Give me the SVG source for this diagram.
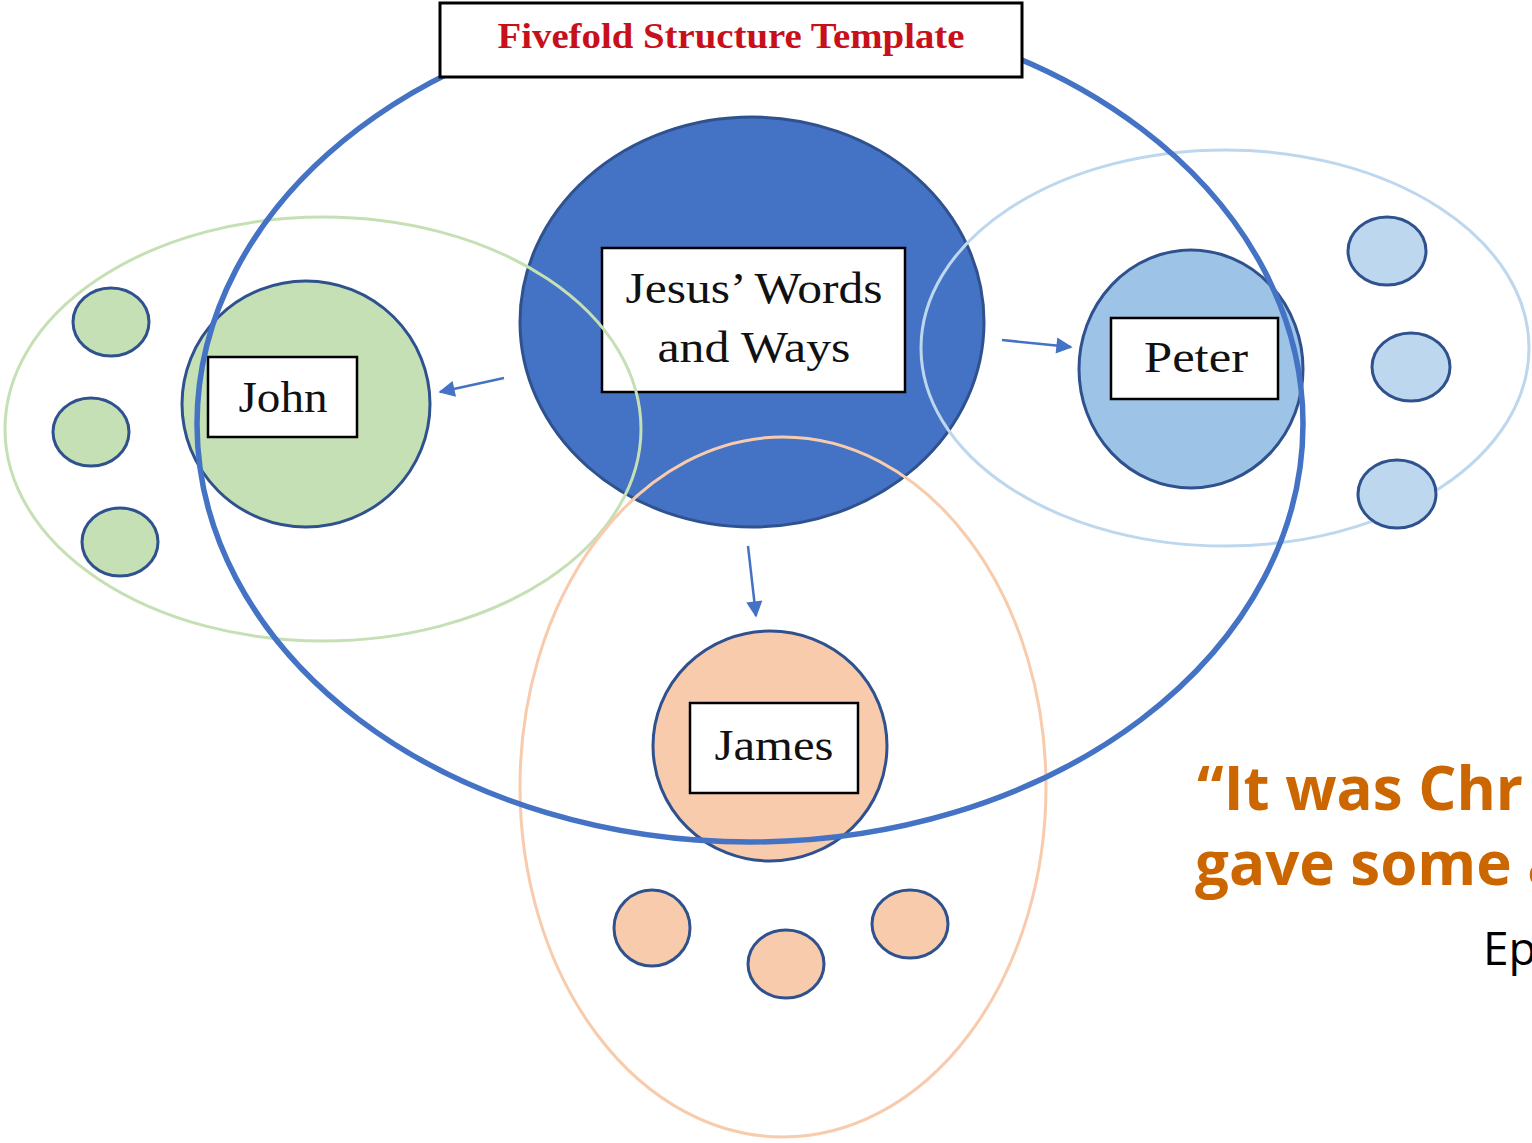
<svg xmlns="http://www.w3.org/2000/svg" width="1532" height="1143" viewBox="0 0 1532 1143">
<style>
.lbl{fill:#fff;stroke:#000;stroke-width:2.5}
.lt{font-family:"Liberation Serif","DejaVu Serif",serif;font-size:44px;fill:#111;text-anchor:middle}
.dk{stroke:#2F528F;stroke-width:3}
.sg{fill:#C5E0B4}
.sb{fill:#BDD7EE}
.sp{fill:#F8CBAD}
.out{fill:none;stroke-width:3}
.arr{stroke:#4472C4;stroke-width:2.5;fill:none;marker-end:url(#ah)}
.q{font-family:"Open Sans","Noto Sans","DejaVu Sans",sans-serif;font-weight:700;font-size:60px;fill:#CC6600}
</style>
<defs>
<marker id="ah" viewBox="0 0 10 10" refX="9" refY="5" markerWidth="7" markerHeight="6.5" markerUnits="strokeWidth" orient="auto">
<path d="M0,0 L10,5 L0,10 z" fill="#4472C4"/>
</marker>
</defs>
<rect width="1532" height="1143" fill="#fff"/>

<g id="jesus">
<ellipse cx="752" cy="322" rx="232" ry="205" fill="#4472C4" stroke="#2F528F" stroke-width="3"/>
<rect class="lbl" x="602" y="248" width="303" height="144"/>
<text class="lt" x="754" y="303" textLength="257" lengthAdjust="spacingAndGlyphs">Jesus’ Words</text>
<text class="lt" x="754" y="362" textLength="193" lengthAdjust="spacingAndGlyphs">and Ways</text>
</g>

<g id="groups">
<ellipse id="john-group" class="out" cx="323" cy="429" rx="318" ry="212" stroke="#C5E0B4"/>
<ellipse id="peter-group" class="out" cx="1225" cy="348" rx="304" ry="198" stroke="#BDD7EE"/>
<ellipse id="james-group" class="out" cx="783" cy="787" rx="263" ry="350" stroke="#F8CBAD"/>
</g>

<g id="john">
<ellipse class="sg dk" cx="306" cy="404" rx="124" ry="123"/>
<rect class="lbl" x="208" y="357" width="149" height="80"/>
<text class="lt" x="283" y="412" textLength="89" lengthAdjust="spacingAndGlyphs">John</text>
</g>
<g id="john-members">
<ellipse class="sg dk" cx="111" cy="322" rx="38" ry="34"/>
<ellipse class="sg dk" cx="91" cy="432" rx="38" ry="34"/>
<ellipse class="sg dk" cx="120" cy="542" rx="38" ry="34"/>
</g>

<g id="peter">
<ellipse cx="1191" cy="369" rx="112" ry="119" fill="#9DC3E6" class="dk"/>
<rect class="lbl" x="1111" y="318" width="167" height="81"/>
<text class="lt" x="1196" y="372" textLength="104" lengthAdjust="spacingAndGlyphs">Peter</text>
</g>
<g id="peter-members">
<ellipse class="sb dk" cx="1387" cy="251" rx="39" ry="34"/>
<ellipse class="sb dk" cx="1411" cy="367" rx="39" ry="34"/>
<ellipse class="sb dk" cx="1397" cy="494" rx="39" ry="34"/>
</g>

<g id="james">
<ellipse class="sp dk" cx="770" cy="746" rx="117" ry="115"/>
<rect class="lbl" x="690" y="703" width="168" height="90"/>
<text class="lt" x="774" y="760" textLength="119" lengthAdjust="spacingAndGlyphs">James</text>
</g>
<g id="james-members">
<ellipse class="sp dk" cx="652" cy="928" rx="38" ry="38"/>
<ellipse class="sp dk" cx="786" cy="964" rx="38" ry="34"/>
<ellipse class="sp dk" cx="910" cy="924" rx="38" ry="34"/>
</g>

<g id="fivefold">
<ellipse cx="750" cy="424" rx="553" ry="418" fill="none" stroke="#4472C4" stroke-width="5.5"/>
</g>

<g id="title">
<rect x="440" y="3" width="582" height="74" fill="#fff" stroke="#000" stroke-width="3"/>
<text x="731" y="48" text-anchor="middle" font-family="'Liberation Serif','DejaVu Serif',serif" font-weight="700" font-size="35" fill="#C8101A" textLength="467" lengthAdjust="spacingAndGlyphs">Fivefold Structure Template</text>
</g>

<g id="connectors">
<line class="arr" x1="504" y1="378" x2="440" y2="392"/>
<line class="arr" x1="1002" y1="340" x2="1071" y2="347"/>
<line class="arr" x1="748" y1="546" x2="756" y2="616"/>
</g>

<g id="quote">
<text class="q" x="1197" y="810">“It was Chr</text>
<text class="q" x="1195" y="885">gave some a</text>
<text x="1483" y="965" font-family="'Open Sans','Noto Sans','DejaVu Sans',sans-serif" font-size="46" fill="#000">Ep</text>
</g>
</svg>
